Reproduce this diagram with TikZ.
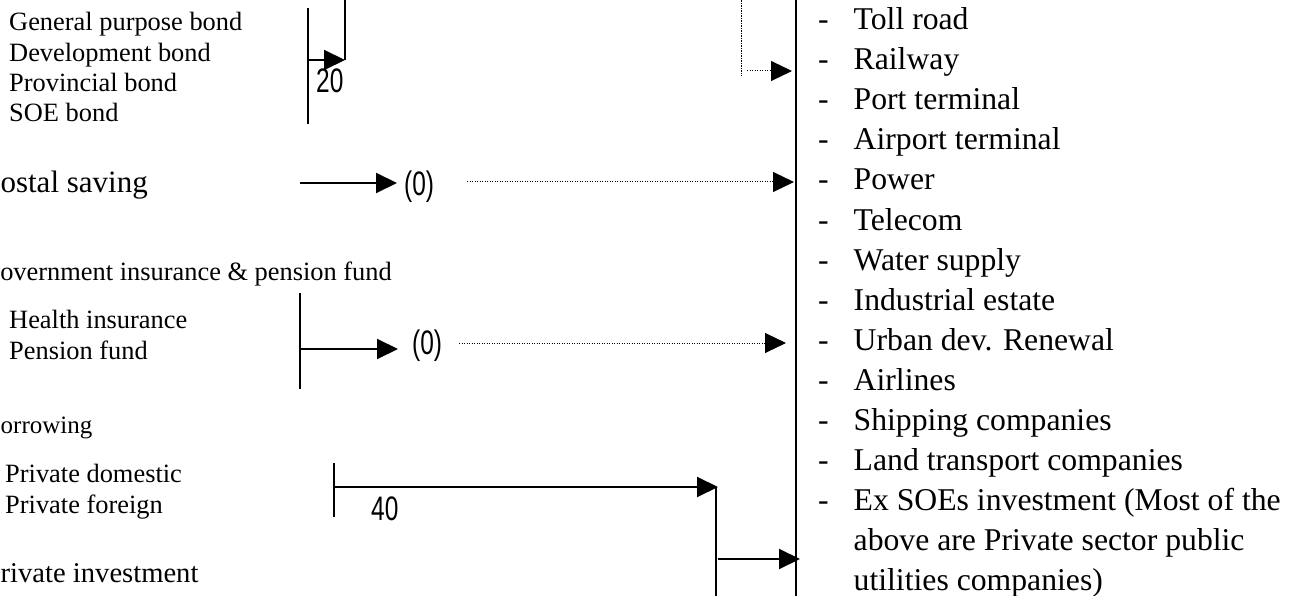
\documentclass[tikz,border=0pt]{standalone}
\usepackage{fontspec}
\setmainfont{Liberation Serif}
\newfontfamily\numfont[FakeStretch=0.72]{Liberation Sans}
\usetikzlibrary{arrows.meta}
\begin{document}
\begin{tikzpicture}[x=1pt,y=-1pt,
  small/.style={inner sep=0pt,anchor=base west,font=\fontsize{26.4}{30}\selectfont},
  big/.style={inner sep=0pt,anchor=base east,font=\fontsize{31}{36}\selectfont},
  item/.style={inner sep=0pt,anchor=base west,font=\fontsize{31.7}{38}\selectfont},
  num/.style={inner sep=0pt,anchor=base west,font=\numfont\fontsize{34}{40}\selectfont},
  wire/.style={line width=2pt},
  flow/.style={line width=2pt,-{Triangle[length=21pt,width=20pt]}},
  dotwire/.style={line width=1pt,dash pattern=on 1.2pt off 1.3pt},
  dotflow/.style={dotwire,-{Triangle[length=21pt,width=20pt]}}]
\useasboundingbox (0,0) rectangle (1301,596);

% ---- sources on the left ----
\node[small] (gpb) at (9,31)  {General purpose bond};
\node[small] (dvb) at (9,62)  {Development bond};
\node[small] (pvb) at (9,92)  {Provincial bond};
\node[small] (soe) at (9,122) {SOE bond};

\node[big,anchor=base east] (postal) at (148,193) {ostal saving};

\node[small,anchor=base east] (gov) at (392,280) {overnment insurance \& pension fund};
\node[small] (health)  at (9,328) {Health insurance};
\node[small] (pension) at (9,359) {Pension fund};

\node[small,font=\fontsize{25}{30}\selectfont] (borrow) at (0.5,433) {orrowing};
\node[small] (pdom) at (5,482) {Private domestic};
\node[small] (pfor) at (5,513) {Private foreign};

\node[small,font=\fontsize{28.6}{34}\selectfont] (pinv) at (0.5,582) {rivate investment};

% ---- amounts ----
\node[num] (n20)  at (316,93)  {20};
\node[num] (n0a)  at (404,196) {(0)};
\node[num] (n0b)  at (412,354) {(0)};
\node[num] (n40)  at (371,520) {40};

% ---- bracket and connector points ----
\coordinate (bondTop) at (308,8);
\coordinate (bondBot) at (308,124);
\coordinate (bondMid) at (308,60);
\coordinate (bondHit) at (345,60);
\coordinate (bondUp)  at (345,-2);

\coordinate (postA) at (300,183);
\coordinate (postB) at (397,183);
\coordinate (postC) at (467,182);
\coordinate (postD) at (794,182);

\coordinate (topDotUp)  at (741,-2);
\coordinate (topDotLow) at (741,76);
\coordinate (topDotA)   at (747,71);
\coordinate (topDotB)   at (792,71);

\coordinate (govTop) at (300,293);
\coordinate (govBot) at (300,389);
\coordinate (govMid) at (300,349);
\coordinate (govHit) at (398,349);
\coordinate (govC)   at (459,343);
\coordinate (govD)   at (786,343);

\coordinate (brTop) at (334,463);
\coordinate (brBot) at (334,517);
\coordinate (brMid) at (334,487);
\coordinate (brHit) at (718,487);
\coordinate (joinTop) at (716,487);
\coordinate (joinBot) at (716,598);
\coordinate (joinA)   at (718,559);
\coordinate (joinB)   at (800,559);

\coordinate (barTop) at (796,-2);
\coordinate (barBot) at (796,598);

% ---- lines ----
\draw[wire] (bondTop) -- (bondBot);
\draw[flow] (bondMid) -- (bondHit);
\draw[wire] (bondHit) -- (bondUp);

\draw[flow] (postA) -- (postB);
\draw[dotflow] (postC) -- (postD);

\draw[dotwire] (topDotUp) -- (topDotLow);
\draw[dotflow] (topDotA) -- (topDotB);

\draw[wire] (govTop) -- (govBot);
\draw[flow] (govMid) -- (govHit);
\draw[dotflow] (govC) -- (govD);

\draw[wire] (brTop) -- (brBot);
\draw[flow] (brMid) -- (brHit);
\draw[wire] (joinTop) -- (joinBot);
\draw[flow] (joinA) -- (joinB);

\draw[wire] (barTop) -- (barBot);

% ---- uses on the right ----
\foreach \name/\txt [count=\i from 0] in {
  toll/Toll road, rail/Railway, port/Port terminal, air/Airport terminal,
  power/Power, tele/Telecom, water/Water supply, ind/Industrial estate,
  urban/Urban dev. Renewal, airl/Airlines, ship/Shipping companies,
  land/Land transport companies, exsoe/Ex SOEs investment (Most of the} {
  \node[item] (dash-\name) at (818,30+40*\i) {-};
  \node[item] (\name) at (853.5,30+40*\i) {\txt};
}
\node[item] (exsoe2) at (853.5,550) {above are Private sector public};
\node[item] (exsoe3) at (853.5,590) {utilities companies)};
\end{tikzpicture}
\end{document}
